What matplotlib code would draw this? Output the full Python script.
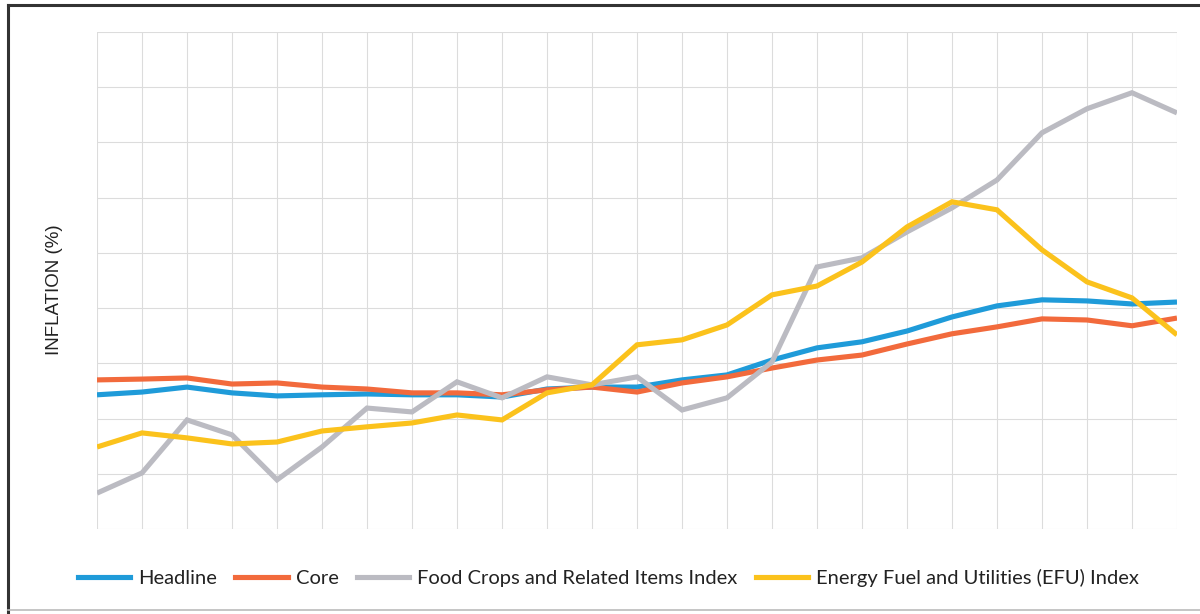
import matplotlib
matplotlib.use("Agg")
import matplotlib.pyplot as plt
from matplotlib.lines import Line2D

periods = list(range(25))

headline = [4.86, 4.96, 5.14, 4.93, 4.82, 4.86, 4.89, 4.86, 4.86, 4.78,
            5.07, 5.14, 5.14, 5.40, 5.58, 6.12, 6.56, 6.78, 7.17, 7.68,
            8.08, 8.30, 8.26, 8.15, 8.22]
core = [5.40, 5.43, 5.47, 5.25, 5.29, 5.14, 5.07, 4.93, 4.93, 4.86,
        5.04, 5.14, 4.96, 5.29, 5.51, 5.83, 6.12, 6.30, 6.70, 7.07,
        7.32, 7.61, 7.57, 7.36, 7.64]
food = [1.30, 2.03, 3.95, 3.41, 1.78, 2.97, 4.38, 4.24, 5.33, 4.75,
        5.51, 5.22, 5.51, 4.31, 4.75, 6.05, 9.49, 9.82, 10.76, 11.63,
        12.64, 14.35, 15.22, 15.80, 15.07]
efu = [2.97, 3.48, 3.30, 3.08, 3.15, 3.55, 3.70, 3.84, 4.13, 3.95,
       4.93, 5.22, 6.67, 6.85, 7.39, 8.48, 8.80, 9.67, 10.94, 11.85,
       11.56, 10.11, 8.95, 8.37, 7.03]

series_names = ["Headline", "Core", "Food Crops and Related Items Index",
                "Energy Fuel and Utilities (EFU) Index"]
series_colors = ["#1F9BD9", "#F26A3C", "#BBBBC2", "#FBC21C"]
y_ticks = list(range(0, 20, 2))

fig = plt.figure(figsize=(12, 6.14), dpi=100)
ax = fig.add_axes([97 / 1200, 1 - 529 / 614, (1177 - 97) / 1200, (529 - 32) / 614])

for vals, name, col in zip([headline, core, food, efu], series_names, series_colors):
    ax.plot(periods, vals, color=col, lw=3.7, label=name, solid_capstyle="butt",
            solid_joinstyle="miter")

ax.set_xlim(periods[0], periods[-1])
ax.set_ylim(y_ticks[0], y_ticks[-1])
ax.set_xticks(periods)
ax.set_yticks(y_ticks)
ax.grid(True, color="#DCDCDC", lw=0.8)
ax.set_axisbelow(True)
ax.tick_params(left=False, bottom=False, labelleft=False, labelbottom=False)
for s in ax.spines.values():
    s.set_visible(False)

fig.text(55 / 1200, 1 - 290 / 614, "INFLATION (%)", rotation=90, ha="center",
         va="center", fontsize=13.5, family="Liberation Sans", color="#222222")

handles = [Line2D([0], [0], color=c, lw=3.7) for c in series_colors]
leg = fig.legend(handles, series_names, loc="center", bbox_to_anchor=(0.507, 1 - 578 / 614),
                 ncol=4, frameon=False, handlelength=2.6, handletextpad=0.4,
                 columnspacing=0.9, prop={"family": "Lato", "size": 14.5})
for t in leg.get_texts():
    t.set_color("#222222")

# scanned frame
fig.add_artist(Line2D([8 / 1200, 8 / 1200], [0, 1 - 5 / 614], transform=fig.transFigure,
                      color="#333333", lw=2.2))
fig.add_artist(Line2D([8 / 1200, 1], [1 - 5 / 614, 1 - 5 / 614], transform=fig.transFigure,
                      color="#333333", lw=2.2))
fig.add_artist(Line2D([8 / 1200, 1], [1 - 610 / 614, 1 - 610 / 614], transform=fig.transFigure,
                      color="#BBBBBB", lw=1.2))

fig.savefig("out.png", dpi=100, facecolor="white")
